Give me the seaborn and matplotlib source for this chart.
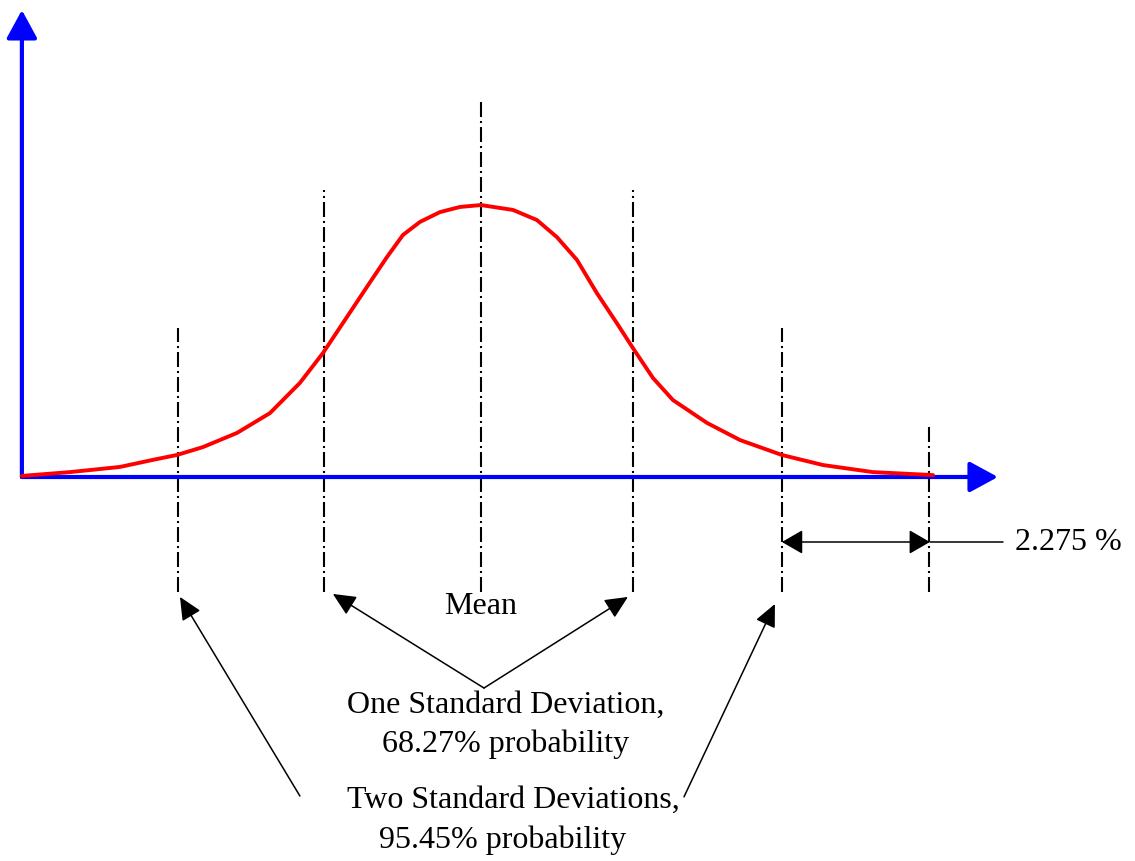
import matplotlib
matplotlib.use("Agg")
import matplotlib.pyplot as plt
import seaborn as sns
import pandas as pd

# curve: x in standard deviations from the mean, y relative to the peak
curve_x = [-3.020, -2.704, -2.375, -2.158, -2.000, -1.829, -1.605, -1.388, -1.191, -1.039,
           -0.882, -0.750, -0.618, -0.513, -0.401, -0.270, -0.138, 0.0, 0.211, 0.368,
           0.500, 0.632, 0.763, 0.895, 1.000, 1.132, 1.263, 1.487, 1.704, 1.980, 2.250,
           2.579, 2.974]
curve_y = [0.004, 0.018, 0.037, 0.063, 0.081, 0.110, 0.162, 0.235, 0.346, 0.456,
           0.588, 0.699, 0.809, 0.890, 0.938, 0.974, 0.993, 1.000, 0.982, 0.945,
           0.882, 0.798, 0.676, 0.565, 0.474, 0.364, 0.283, 0.199, 0.136, 0.081, 0.044,
           0.018, 0.007]

# dash-dot guide lines (position, top)
guide_x = [-1.99, -1.03, 0.0, 1.0, 1.98, 2.95]
guide_top = [0.548, 1.055, 1.393, 1.055, 0.548, 0.184]
guide_bottom = -0.423

mean_label = "Mean"
one_sd_label = ["One Standard Deviation,", "68.27% probability"]
two_sd_label = ["Two Standard Deviations,", "95.45% probability"]
tail_label = "2.275 %"

df = pd.DataFrame({"sd": curve_x, "density": curve_y})

sns.set_theme(style="white")
plt.rcParams["font.family"] = ["Liberation Serif", "DejaVu Serif"]

fig = plt.figure(figsize=(11.35, 8.61), dpi=100)
ax = fig.add_axes([0, 0, 1, 1])
ax.set_xlim(-3.164, 4.303)
ax.set_ylim(-1.412, 1.754)
ax.axis("off")

# guide lines
for gx, gt in zip(guide_x, guide_top):
    ax.plot([gx, gx], [guide_bottom, gt], color="black", lw=1.5,
            ls=(0, (7.2, 1.9, 1.0, 1.9)), zorder=1)

# blue axes with arrow heads
blue = "#0000ff"
x0 = curve_x[0]
ax.annotate("", xy=(x0, 1.717), xytext=(x0, 0),
            arrowprops=dict(arrowstyle="-|>,head_length=1.73,head_width=0.94",
                            color=blue, lw=3, shrinkA=0, shrinkB=0, mutation_scale=10))
ax.annotate("", xy=(3.401, 0), xytext=(x0, 0),
            arrowprops=dict(arrowstyle="-|>,head_length=1.73,head_width=0.94",
                            color=blue, lw=3, shrinkA=0, shrinkB=0, mutation_scale=10))

sns.lineplot(data=df, x="sd", y="density", color="#ff0000", lw=2.8, ax=ax,
             sort=False, zorder=3, solid_joinstyle="round", solid_capstyle="round")
ax.set_xlabel("")
ax.set_ylabel("")

black_arrow = dict(arrowstyle="-|>,head_length=1.4,head_width=0.65", color="black",
                   lw=1.1, shrinkA=0, shrinkB=0, mutation_scale=10)

# one standard deviation arrows
ax.annotate("", xy=(-0.974, -0.430), xytext=(0.020, -0.776), arrowprops=black_arrow)
ax.annotate("", xy=(0.967, -0.441), xytext=(0.020, -0.776), arrowprops=black_arrow)
# two standard deviation arrows
ax.annotate("", xy=(-1.980, -0.441), xytext=(-1.191, -1.173), arrowprops=black_arrow)
ax.annotate("", xy=(1.934, -0.467), xytext=(1.336, -1.176), arrowprops=black_arrow)

# tail dimension
ax.annotate("", xy=(2.954, -0.239), xytext=(1.980, -0.239),
            arrowprops=dict(arrowstyle="<|-|>,head_length=1.3,head_width=0.75",
                            color="black", lw=1.1, shrinkA=0, shrinkB=0,
                            mutation_scale=10))
ax.plot([2.954, 3.434], [-0.239, -0.239], color="black", lw=1.1)

fs = 23
txt = dict(ha="center", va="center", fontsize=fs, color="black")
ax.text(0.0, -0.478, mean_label, **txt)
ax.text(0.164, -0.838, one_sd_label[0], **txt)
ax.text(0.164, -0.982, one_sd_label[1], **txt)
ax.text(0.211, -1.188, two_sd_label[0], **txt)
ax.text(0.145, -1.335, two_sd_label[1], **txt)
ax.text(3.513, -0.239, tail_label, ha="left", va="center", fontsize=fs, color="black")

plt.savefig("out.png", dpi=100, facecolor="white")
plt.close()
